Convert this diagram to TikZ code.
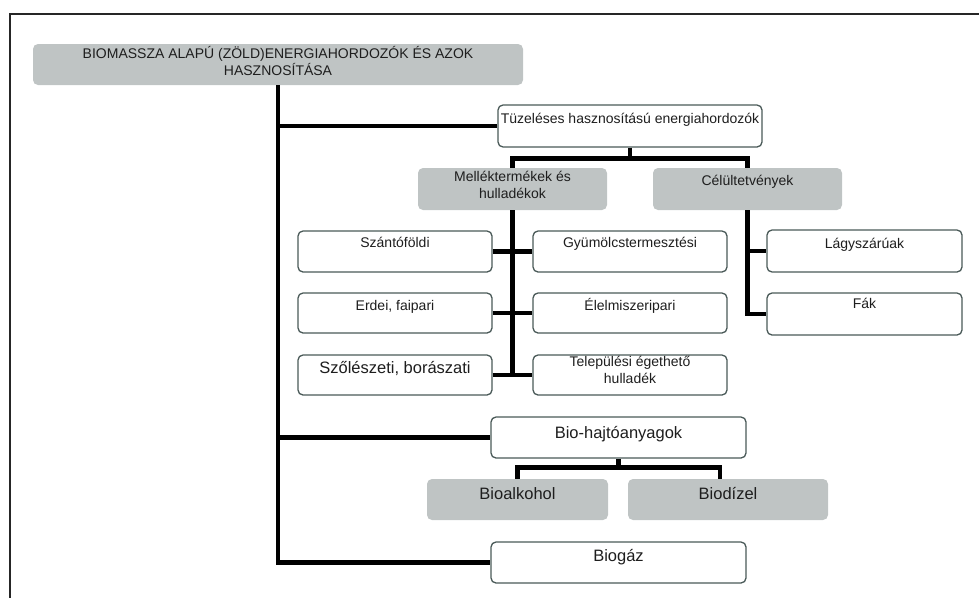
\documentclass[tikz,border=0pt]{standalone}
\usepackage{fontspec}
\setmainfont{Liberation Sans}
\definecolor{boxgray}{RGB}{191,196,196}
\definecolor{edgecol}{RGB}{74,90,88}
\definecolor{inkcol}{RGB}{30,30,30}
\begin{document}
\begin{tikzpicture}[x=1pt,y=-1pt,
  wbox/.style={draw=edgecol, line width=1.3pt, fill=white, rounded corners=5pt, inner sep=0pt},
  gbox/.style={fill=boxgray, rounded corners=5pt, inner sep=0pt},
  lbl/.style={anchor=north, inner sep=0pt, align=center, text=inkcol,
    font=\fontsize{14}{17}\selectfont, execute at begin node={\rule{0pt}{1em}}},
  biglbl/.style={lbl, font=\fontsize{16.5}{20}\selectfont},
  conn/.style={line width=4.5pt, draw=black}]
\useasboundingbox (0,0) rectangle (979,598);

% outer frame (top and left edges)
\draw[line width=2pt, draw=black!85] (979,14) -- (10,14) -- (10,598);

% boxes
\node[gbox, minimum width=490pt, minimum height=41pt] (title) at (278,64.5) {};
\node[wbox, minimum width=264pt, minimum height=42pt] (tuz) at (630,126) {};
\node[gbox, minimum width=189pt, minimum height=42pt] (mell) at (512.5,189) {};
\node[gbox, minimum width=189pt, minimum height=42pt] (cel) at (747.5,189) {};
\node[wbox, minimum width=194pt, minimum height=41pt] (szan) at (395,251.5) {};
\node[wbox, minimum width=194pt, minimum height=40pt] (erdei) at (395,313) {};
\node[wbox, minimum width=194pt, minimum height=40pt] (szol) at (395,375) {};
\node[wbox, minimum width=194pt, minimum height=41pt] (gyum) at (630,251.5) {};
\node[wbox, minimum width=194pt, minimum height=40pt] (elel) at (630,313) {};
\node[wbox, minimum width=194pt, minimum height=40pt] (tel) at (630,375) {};
\node[wbox, minimum width=195pt, minimum height=42pt] (lagy) at (864.5,251) {};
\node[wbox, minimum width=195pt, minimum height=42pt] (fak) at (864.5,314) {};
\node[wbox, minimum width=255pt, minimum height=41pt] (bioh) at (618.5,437.5) {};
\node[gbox, minimum width=181pt, minimum height=41pt] (bioalk) at (517.5,499.5) {};
\node[gbox, minimum width=200pt, minimum height=41pt] (biod) at (728,499.5) {};
\node[wbox, minimum width=255pt, minimum height=41pt] (biogaz) at (618.5,562.5) {};

% labels
\node[lbl] (ttitle) at (278,46) {BIOMASSZA ALAPÚ (ZÖLD)ENERGIAHORDOZÓK ÉS AZOK\\HASZNOSÍTÁSA};
\node[lbl] (ttuz) at (630,109) {Tüzeléses hasznosítású energiahordozók};
\node[lbl] (tmell) at (512.5,171) {Melléktermékek és\\hulladékok};
\node[lbl] (tcel) at (747.5,171) {Célültetvények};
\node[lbl] (tszan) at (395,233) {Szántóföldi};
\node[lbl] (terdei) at (395,296) {Erdei, faipari};
\node[biglbl] (tszol) at (395,356.5) {Szőlészeti, borászati};
\node[lbl] (tgyum) at (630,233) {Gyümölcstermesztési};
\node[lbl] (telel) at (630,296) {Élelmiszeripari};
\node[lbl] (ttel) at (630,356) {Települési égethető\\hulladék};
\node[lbl] (tlagy) at (864.5,234) {Lágyszárúak};
\node[lbl] (tfak) at (864.5,294) {Fák};
\node[biglbl] (tbioh) at (618.5,421.5) {Bio-hajtóanyagok};
\node[biglbl] (tbioalk) at (517.5,482.5) {Bioalkohol};
\node[biglbl] (tbiod) at (728,482.5) {Biodízel};
\node[biglbl] (tbiogaz) at (618.5,544.5) {Biogáz};

% main trunk and its branches
\draw[conn] (title.south) -- (title.south |- biogaz.west) -- (biogaz.west);
\draw[conn] (title.south |- tuz.west) -- (tuz.west);
\draw[conn] (title.south |- bioh.west) -- (bioh.west);

% combustion carriers fork
\coordinate (tf) at ([yshift=-11pt]tuz.south);
\draw[conn] (tuz.south) -- (tf);
\draw[conn] (mell.north) |- (tf) -| (cel.north);

% by-products and waste
\draw[conn] (mell.south) -- (mell.south |- szol.east);
\draw[conn] (szan.east) -- (gyum.west);
\draw[conn] (erdei.east) -- (elel.west);
\draw[conn] (szol.east) -- (tel.west);

% energy crops
\draw[conn] (cel.south) |- (fak.west);
\draw[conn] (cel.south |- lagy.west) -- (lagy.west);

% biofuels fork
\coordinate (bf) at ([yshift=-9pt]bioh.south);
\draw[conn] (bioh.south) -- (bf);
\draw[conn] (bioalk.north) |- (bf) -| ([xshift=-8pt]biod.north);
\end{tikzpicture}
\end{document}
